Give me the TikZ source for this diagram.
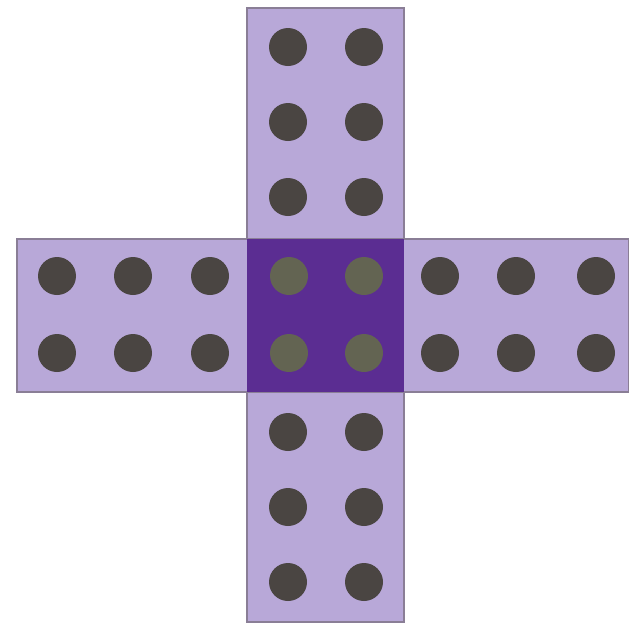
\documentclass[tikz,border=0pt]{standalone}
\usepackage{xcolor}
\usepackage{tikz}
\definecolor{lilac}{HTML}{B8A8D8}
\definecolor{plum}{HTML}{5B2D92}
\definecolor{peg}{HTML}{4A4542}
\definecolor{pegmid}{HTML}{646A4C}
\definecolor{edge}{HTML}{8A7E96}

\begin{document}
\begin{tikzpicture}[x=1pt, y=-1pt,
  bar/.style={draw=edge, line width=1.2pt, fill=lilac},
  hole/.style={circle, fill=peg, minimum size=38pt, inner sep=0pt},
  midhole/.style={circle, fill=pegmid, fill opacity=0.9, minimum size=38pt, inner sep=0pt}]
\useasboundingbox (0,0) rectangle (629,625);
% the two arms of the cross
\draw[bar] (247,8) rectangle (404,622);
\draw[bar] (17,239) rectangle (629,392);
\fill[plum] (247,239) rectangle (404,392);
% pegs along the vertical arm
\foreach \y/\r in {47/a,122/b,197/c,432/f,507/g,582/h} {
  \node[hole] (v\r1) at (288,\y) {};
  \node[hole] (v\r2) at (364,\y) {};
}
% pegs along the horizontal arm
\foreach \x/\c in {57/1,133/2,210/3,440/6,516/7,596/8} {
  \node[hole] (h\c1) at (\x,276) {};
  \node[hole] (h\c2) at (\x,353) {};
}
% pegs in the shared square
\foreach \x/\c in {289/4,364/5} {
  \node[midhole] (m\c1) at (\x,276) {};
  \node[midhole] (m\c2) at (\x,353) {};
}
\end{tikzpicture}
\end{document}
